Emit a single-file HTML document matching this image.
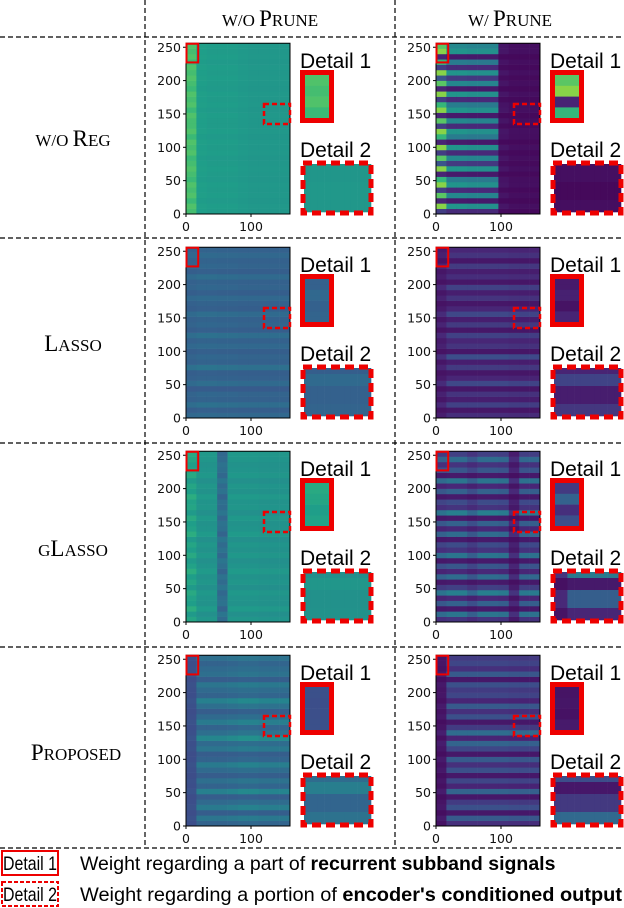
<!DOCTYPE html>
<html><head><meta charset="utf-8">
<style>
body{margin:0;background:#fff;width:624px;height:908px;overflow:hidden;font-family:"Liberation Sans","DejaVu Sans",sans-serif;}
svg{display:block}
.sc{font-family:"Liberation Serif","DejaVu Serif",serif;font-size:23px;}
.sc tspan.s{font-size:17px;}
.tk{font-family:"DejaVu Sans","Liberation Sans",sans-serif;font-size:12.5px;fill:#111;}
.dl{font-family:"Liberation Sans",sans-serif;font-size:21px;fill:#000;}
.lg{font-family:"Liberation Sans",sans-serif;font-size:19.5px;fill:#000;}
</style></head><body>
<svg id="fig" width="624" height="908" viewBox="0 0 624 908">
<g stroke="#000" stroke-width="1.2" stroke-dasharray="5,3" fill="none">
<line x1="145" y1="0" x2="145" y2="848"/><line x1="395" y1="0" x2="395" y2="848"/>
<line x1="0" y1="37" x2="624" y2="37"/><line x1="0" y1="238" x2="624" y2="238"/>
<line x1="0" y1="443" x2="624" y2="443"/><line x1="0" y1="647" x2="624" y2="647"/>
<line x1="0" y1="848" x2="624" y2="848"/>
</g>
<text class="sc" x="270" y="26" text-anchor="middle"><tspan class="s">W/O </tspan>P<tspan class="s">RUNE</tspan></text>
<text class="sc" x="510" y="26" text-anchor="middle"><tspan class="s">W/ </tspan>P<tspan class="s">RUNE</tspan></text>
<text class="sc" x="73" y="146" text-anchor="middle"><tspan class="s">W/O </tspan>R<tspan class="s">EG</tspan></text>
<text class="sc" x="73" y="351" text-anchor="middle">L<tspan class="s">ASSO</tspan></text>
<text class="sc" x="73" y="556" text-anchor="middle"><tspan class="s">G</tspan>L<tspan class="s">ASSO</tspan></text>
<text class="sc" x="76" y="760" text-anchor="middle">P<tspan class="s">ROPOSED</tspan></text>
<g id="panels"></g>
<g>
<rect x="2" y="851" width="56" height="24" fill="none" stroke="#e00" stroke-width="2"/>
<text class="lg" x="3" y="870" textLength="54" lengthAdjust="spacingAndGlyphs">Detail 1</text>
<text class="lg" x="80" y="870">Weight regarding a part of <tspan font-weight="bold">recurrent subband signals</tspan></text>
<rect x="2" y="882" width="56" height="24" fill="none" stroke="#e00" stroke-width="2" stroke-dasharray="4,2"/>
<text class="lg" x="3" y="901" textLength="54" lengthAdjust="spacingAndGlyphs">Detail 2</text>
<text class="lg" x="80" y="901" textLength="542" lengthAdjust="spacingAndGlyphs">Weight regarding a portion of <tspan font-weight="bold">encoder's conditioned output</tspan></text>
</g>
</svg>
<script>
const panelNames=["woreg-noprune","woreg-prune","lasso-noprune","lasso-prune","glasso-noprune","glasso-prune","proposed-noprune","proposed-prune"];
const panelBase=[0.50,0.02,0.26,0.04,0.46,0.03,0.22,0.03];
const colsP1=[0.22,0.06,0.05,0.05,0.05,0.04,0.03,0.03,0.03,0.03];
const colsP2=[0.80,0.50,0.50,0.48,0.48,0.48,0.04,0.02,0.02,0.02];
const colsP3=[0.12,0.14,0.14,0.13,0.13,0.12,0.12,0.12,0.12,0.12];
const colsP4=[0.10,0.22,0.22,0.22,0.22,0.22,0.22,0.20,0.20,0.20];
const colsP5=[0.16,0.08,0.08,-0.14,0.08,0.08,0.08,0.07,0.07,0.07];
const colsP6=[0.35,0.40,0.40,0.30,0.40,0.40,0.38,0.12,0.38,0.38];
const colsP7=[0.04,0.24,0.24,0.24,0.26,0.28,0.28,0.26,0.26,0.26];
const colsP8=[0.06,0.36,0.36,0.36,0.36,0.36,0.36,0.34,0.34,0.34];
const rowsP1=[0.9,1,0.8,1,0.9,1,0.8,0.9,1,0.9,0.8,1,0.9,1,0.8,1,0.9,0.9,1,0.8,1,0.9,1,0.8,0.9,1,0.9,1,0.8,1,0.9,1];
const rowsP2=[0.2,1,0.1,0.9,0.2,1,0.8,0.1,1,0.3,0.9,0.2,1,0.1,0.8,1,0.2,0.9,0.1,1,0.8,0.2,1,0.1,0.9,0.3,1,0.2,0.8,0.1,1,0.9];
const rowsP3=[0.6,0.3,0.8,0.4,0.5,0.2,0.7,0.4,0.3,0.9,0.4,0.5,0.3,0.6,0.4,0.8,0.3,0.5,0.4,0.7,0.3,0.4,0.6,0.3,0.5,0.4,0.7,0.3,0.5,0.4,0.6,0.4];
const rowsP4=[0.4,0.1,0.7,0.2,0.5,0.1,0.8,0.3,0.1,0.6,0.2,0.9,0.1,0.5,0.3,0.7,0.1,0.6,0.2,0.8,0.3,0.1,0.5,0.2,0.7,0.1,0.4,0.2,0.6,0.1,0.5,0.3];
const rowsP5=[0.8,0.5,1,0.6,0.7,0.9,0.5,0.8,0.6,1,0.7,0.5,0.9,0.6,0.8,0.5,1,0.7,0.6,0.9,0.5,0.8,0.7,1,0.6,0.8,0.5,0.9,0.7,0.6,0.8,0.9];
const rowsP6=[0.3,0.9,0.1,0.7,0.2,1,0.4,0.1,0.8,0.2,0.6,0.1,0.9,0.3,0.5,0.1,0.8,0.2,0.7,0.1,1,0.3,0.5,0.1,0.7,0.2,0.9,0.1,0.6,0.3,0.8,0.4];
const rowsP7=[0.4,0.7,0.3,0.8,0.5,0.3,0.9,0.4,0.6,0.3,0.5,0.8,0.4,0.3,0.7,0.5,1,0.6,0.4,0.8,0.5,0.3,0.6,0.9,0.4,0.5,0.7,0.3,0.6,0.5,0.4,0.6];
const rowsP8=[0.3,0.7,0.1,0.6,0.4,0.1,0.8,0.2,0.5,0.1,0.6,0.3,0.7,0.1,0.5,0.8,0.2,0.9,0.4,0.1,0.6,0.3,0.7,0.2,0.5,0.4,0.6,0.1,0.7,0.3,0.5,0.4];
const panelCols=[colsP1,colsP2,colsP3,colsP4,colsP5,colsP6,colsP7,colsP8];
const panelRows=[rowsP1,rowsP2,rowsP3,rowsP4,rowsP5,rowsP6,rowsP7,rowsP8];
const yTicks=[0,50,100,150,200,250];
const xTicks=[0,100];

const stops=[[68,1,84],[72,40,120],[62,74,137],[49,104,142],[38,130,142],[31,158,137],[53,183,121],[109,205,89],[180,222,44],[253,231,37]];
function viridis(t){t=Math.max(0,Math.min(1,t));const f=t*9,i=Math.min(8,Math.floor(f)),u=f-i;const a=stops[i],b=stops[i+1];return `rgb(${Math.round(a[0]+(b[0]-a[0])*u)},${Math.round(a[1]+(b[1]-a[1])*u)},${Math.round(a[2]+(b[2]-a[2])*u)})`;}
const NS="http://www.w3.org/2000/svg";
function mk(tag,attrs,parent){const e=document.createElementNS(NS,tag);for(const k in attrs)e.setAttribute(k,attrs[k]);parent.appendChild(e);return e;}
const root=document.getElementById('panels');
function val(p,u,w){
  const c=panelCols[p],r=panelRows[p];
  const ci=Math.min(c.length-1,Math.floor(u/16)),ri=Math.min(r.length-1,Math.floor(w/8));
  return panelBase[p]+c[ci]*r[ri];
}
for(let p=0;p<8;p++){
  const row=Math.floor(p/2),col=p%2;
  const x0=186+col*250,y0=214+row*204;
  const sx=u=>x0+u*0.65, sy=w=>y0-w*0.667;
  const g=mk('g',{},root);
  
  
  const nc=panelCols[p].length,nr=panelRows[p].length;
  for(let j=0;j<nc;j++)for(let i=0;i<nr;i++){
    const u0=j*16,w0=i*8;
    const r=mk('rect',{x:sx(u0),y:sy(w0+8),width:sx(u0+16)-sx(u0)+0.3,height:sy(w0)-sy(w0+8)+0.3,fill:viridis(val(p,u0+1,w0+1))},g);
    
    
  }
  mk('rect',{x:sx(0),y:sy(256),width:sx(160)-sx(0),height:sy(0)-sy(256),fill:'none',stroke:'#000','stroke-width':1},g);
  for(const t of yTicks){
    mk('line',{x1:sx(0)-3,x2:sx(0),y1:sy(t),y2:sy(t),stroke:'#000'},g);
    const tx=mk('text',{x:sx(0)-5,y:sy(t)+4.5,'text-anchor':'end',class:'tk'},g);tx.textContent=t;
    
    
  }
  for(const t of xTicks){
    mk('line',{x1:sx(t),x2:sx(t),y1:sy(0),y2:sy(0)+3,stroke:'#000'},g);
    const tx=mk('text',{x:sx(t),y:sy(0)+17,'text-anchor':'middle',class:'tk'},g);tx.textContent=t;
    
    
  }
  mk('rect',{x:sx(0)+0.5,y:sy(256)+0.5,width:sx(18)-sx(0),height:sy(228)-sy(256),fill:'none',stroke:'#e00','stroke-width':2},g);
  mk('rect',{x:sx(120),y:sy(165),width:sx(160)-sx(120),height:sy(135)-sy(165),fill:'none',stroke:'#e00','stroke-width':2.5,'stroke-dasharray':'5,3'},g);
  const dx=x0+114;
  const t1=mk('text',{x:dx,y:y0-146,class:'dl'},g);t1.textContent='Detail 1';
  
  
  const d1=mk('g',{},g);
  
  
  for(let a=0;a<4;a++)for(let b=0;b<8;b++){
    mk('rect',{x:dx+5+a*6,y:y0-139+b*5.4,width:6.3,height:5.7,fill:viridis(val(p,a*4+1,252-b*3.5))},d1);
  }
  mk('rect',{x:dx+2.5,y:y0-141.5,width:29,height:48,fill:'none',stroke:'#e00','stroke-width':5},d1);
  const t2=mk('text',{x:dx,y:y0-57,class:'dl'},g);t2.textContent='Detail 2';
  
  
  const d2=mk('g',{},g);
  
  
  for(let a=0;a<10;a++)for(let b=0;b<8;b++){
    mk('rect',{x:dx+4+a*6.7,y:y0-50+b*6,width:7,height:6.3,fill:viridis(val(p,120+a*4,163-b*3.7))},d2);
  }
  mk('rect',{x:dx+3,y:y0-51,width:68,height:50,fill:'none',stroke:'#e00','stroke-width':5,'stroke-dasharray':'9,5'},d2);
}
</script>
</body></html>
